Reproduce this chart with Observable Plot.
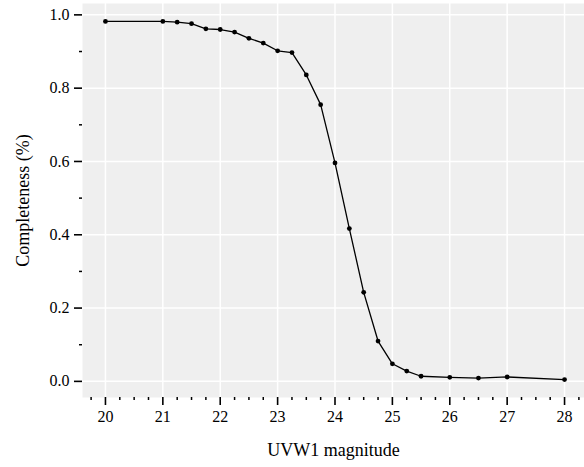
<!DOCTYPE html>
<html>
<head>
<meta charset="utf-8">
<script src="https://cdn.jsdelivr.net/npm/d3@7"></script>
<script src="https://cdn.jsdelivr.net/npm/@observablehq/plot@0.6"></script>
<style>
  html, body { margin: 0; padding: 0; background: #ffffff; }
  #chart svg { display: block; }
</style>
</head>
<body>
<div id="chart"></div>
<script>
const magnitudes = [20, 21, 21.25, 21.5, 21.75, 22, 22.25, 22.5, 22.75, 23, 23.25, 23.5, 23.75, 24, 24.25, 24.5, 24.75, 25, 25.25, 25.5, 26, 26.5, 27, 28];
const completeness = [0.982, 0.982, 0.980, 0.976, 0.962, 0.960, 0.953, 0.936, 0.923, 0.902, 0.897, 0.836, 0.755, 0.596, 0.417, 0.243, 0.110, 0.048, 0.028, 0.014, 0.011, 0.009, 0.012, 0.005];
const xMajorTicks = [20, 21, 22, 23, 24, 25, 26, 27, 28];
const xMinorTicks = [19.75, 20.25, 20.5, 20.75, 21.25, 21.5, 21.75, 22.25, 22.5, 22.75, 23.25, 23.5, 23.75, 24.25, 24.5, 24.75, 25.25, 25.5, 25.75, 26.25, 26.5, 26.75, 27.25, 27.5, 27.75, 28.25];
const yMajorTicks = [0, 0.2, 0.4, 0.6, 0.8, 1.0];
const yMinorTicks = [0.1, 0.3, 0.5, 0.7, 0.9];
const xLabel = "UVW1 magnitude";
const yLabel = "Completeness (%)";

const data = magnitudes.map((m, i) => ({mag: m, c: completeness[i]}));
const serif = "Liberation Serif";

const chart = Plot.plot({
  width: 584,
  height: 467,
  marginLeft: 82,
  marginRight: 0,
  marginTop: 3,
  marginBottom: 70,
  style: `background: #ffffff; color: #000; font-family: ${serif};`,
  x: {domain: [19.6, 28.4], range: [82, 587]},
  y: {domain: [-0.044, 1.031]},
  marks: [
    Plot.frame({fill: "#efefef", stroke: null}),
    Plot.ruleX(xMajorTicks, {stroke: "#ffffff", strokeWidth: 1.5}),
    Plot.ruleY(yMajorTicks, {stroke: "#ffffff", strokeWidth: 1.5}),
    Plot.axisX({ticks: xMinorTicks, tickSize: 3, tickFormat: () => "", strokeWidth: 1.5, label: null}),
    Plot.axisX({ticks: xMajorTicks, tickSize: 8, tickPadding: 5, strokeWidth: 1.6, fontSize: 16, tickFormat: d => String(d),
      label: xLabel, labelAnchor: "center", labelArrow: "none", labelOffset: 58}),
    Plot.axisY({ticks: yMinorTicks, tickSize: 3, tickFormat: () => "", strokeWidth: 1.5, label: null}),
    Plot.axisY({ticks: yMajorTicks, tickSize: 8, tickPadding: 5, strokeWidth: 1.6, fontSize: 16, tickFormat: d => d.toFixed(1),
      label: yLabel, labelAnchor: "center", labelArrow: "none", labelOffset: 66}),
    Plot.line(data, {x: "mag", y: "c", stroke: "#000", strokeWidth: 1.3}),
    Plot.dot(data, {x: "mag", y: "c", fill: "#000", r: 2.4})
  ]
});

chart.setAttribute("font-family", serif);
chart.querySelectorAll("g, text").forEach(el => {
  if (el.hasAttribute("font-family")) el.setAttribute("font-family", serif);
});
chart.querySelectorAll("text").forEach(t => {
  t.setAttribute("font-family", serif);
  if (t.textContent === xLabel || t.textContent === yLabel) {
    t.setAttribute("font-size", "18");
  }
});
document.getElementById("chart").appendChild(chart);
</script>
</body>
</html>
